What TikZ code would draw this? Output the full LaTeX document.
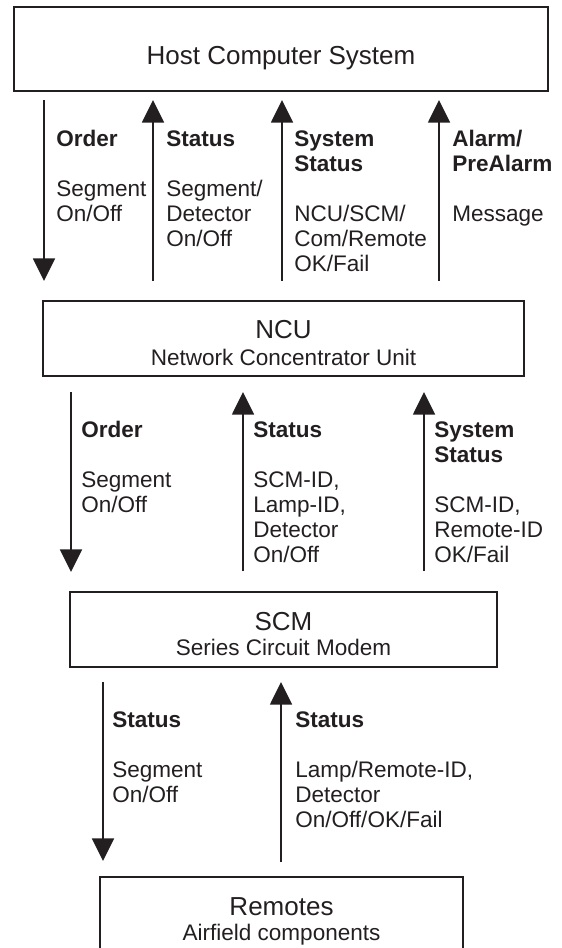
\documentclass[tikz,border=0pt]{standalone}
\usepackage{fontspec}
\setmainfont{Liberation Sans}
\usetikzlibrary{arrows.meta}
\definecolor{ink}{RGB}{35,31,32}
\begin{document}
\begin{tikzpicture}[x=0.75pt,y=-0.75pt,
  box/.style={draw=ink,line width=1.5pt,rectangle,inner sep=0pt,minimum height=56.25pt},
  title/.style={text=ink,anchor=base,inner sep=0pt,font=\fontsize{19.5}{22}\selectfont},
  sub/.style={text=ink,anchor=base,inner sep=0pt,font=\fontsize{16.9}{18.75}\selectfont},
  lbl/.style={text=ink,anchor=base west,inner sep=0pt,align=left,font=\fontsize{16.9}{18.75}\selectfont},
  flow/.style={draw=ink,line width=1.2pt,-{Triangle[length=17pt,width=16.5pt]}}
]
\useasboundingbox (0,0) rectangle (561,948);

% boxes
\node[box,minimum width=400.5pt,minimum height=63pt] (host) at (281,49) {};
\node[box,minimum width=360.75pt] (ncu) at (283.5,338.5) {};
\node[box,minimum width=320.25pt] (scm) at (283.5,629.5) {};
\node[box,minimum width=272.25pt] (rem) at (281.5,914.5) {};

% box texts
\node[title] (hostt) at (281,65) {Host Computer System};
\node[title] (ncut) at (283.5,338) {NCU};
\node[sub] (ncus) at (283.5,365) {Network Concentrator Unit};
\node[title] (scmt) at (283.5,630) {SCM};
\node[sub] (scms) at (283.5,655) {Series Circuit Modem};
\node[title] (remt) at (281.5,915) {Remotes};
\node[sub] (rems) at (281.5,940) {Airfield components};

% arrow end points
\coordinate (a1t) at (44,100);  \coordinate (a1b) at (44,281);
\coordinate (a2t) at (153,100); \coordinate (a2b) at (153,281);
\coordinate (a3t) at (282,100); \coordinate (a3b) at (282,281);
\coordinate (a4t) at (439,100); \coordinate (a4b) at (439,281);
\coordinate (b1t) at (71,392);  \coordinate (b1b) at (71,572);
\coordinate (b2t) at (243,392); \coordinate (b2b) at (243,571);
\coordinate (b3t) at (424,392); \coordinate (b3b) at (424,571);
\coordinate (c1t) at (103,682); \coordinate (c1b) at (103,861);
\coordinate (c2t) at (281,682); \coordinate (c2b) at (281,862);

% arrows
\draw[flow] (a1t) -- (a1b);
\draw[flow] (a2b) -- (a2t);
\draw[flow] (a3b) -- (a3t);
\draw[flow] (a4b) -- (a4t);
\draw[flow] (b1t) -- (b1b);
\draw[flow] (b2b) -- (b2t);
\draw[flow] (b3b) -- (b3t);
\draw[flow] (c1t) -- (c1b);
\draw[flow] (c2b) -- (c2t);

% labels row 1 (anchored at the baseline of the last line)
\node[lbl] (l1) at (56,222) {\textbf{Order}\\[18.75pt]Segment\\On/Off};
\node[lbl] (l2) at (166,247) {\textbf{Status}\\[18.75pt]Segment/\\Detector\\On/Off};
\node[lbl] (l3) at (294,272) {\textbf{System}\\\textbf{Status}\\[18.75pt]NCU/SCM/\\Com/Remote\\OK/Fail};
\node[lbl] (l4) at (452,222) {\textbf{Alarm/}\\\textbf{PreAlarm}\\[18.75pt]Message};
% labels row 2
\node[lbl] (m1) at (81,512) {\textbf{Order}\\[18.75pt]Segment\\On/Off};
\node[lbl] (m2) at (253,562) {\textbf{Status}\\[18.75pt]SCM-ID,\\Lamp-ID,\\Detector\\On/Off};
\node[lbl] (m3) at (434,562) {\textbf{System}\\\textbf{Status}\\[18.75pt]SCM-ID,\\Remote-ID\\OK/Fail};
% labels row 3
\node[lbl] (n1) at (112,802) {\textbf{Status}\\[18.75pt]Segment\\On/Off};
\node[lbl] (n2) at (295,827) {\textbf{Status}\\[18.75pt]Lamp/Remote-ID,\\Detector\\On/Off/OK/Fail};
\end{tikzpicture}
\end{document}
